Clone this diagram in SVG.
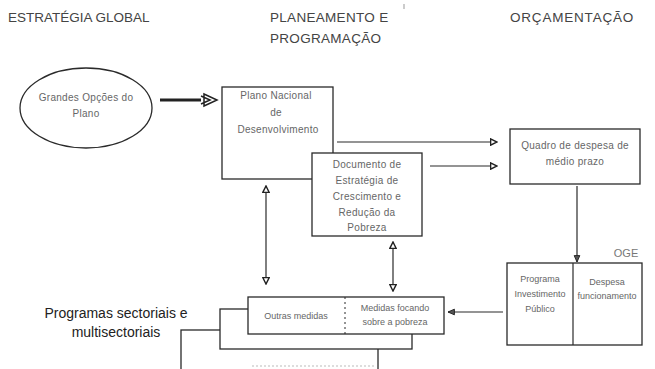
<svg xmlns="http://www.w3.org/2000/svg" width="655" height="369" viewBox="0 0 655 369">
<style>
.title{font-family:"Liberation Sans",Arial,sans-serif;font-size:13.5px;fill:#444;}
.lbl{font-family:"Liberation Sans",Arial,sans-serif;font-size:10px;fill:#666;text-anchor:middle;letter-spacing:0.3px;}
.sm{font-family:"Liberation Sans",Arial,sans-serif;font-size:9px;fill:#666;text-anchor:middle;}
.big{font-family:"Liberation Sans",Arial,sans-serif;font-size:14px;fill:#222;text-anchor:middle;}
.box{fill:#fff;stroke:#2a2a2a;stroke-width:1.3;}
.ln{fill:none;stroke:#2a2a2a;stroke-width:1.2;}
</style>
<defs>
<marker id="hol" viewBox="0 0 10 10" refX="9" refY="5" markerWidth="8" markerHeight="8" markerUnits="userSpaceOnUse" orient="auto-start-reverse">
<path d="M1,1 L9,5 L1,9 Z" fill="#fff" stroke="#222" stroke-width="1.8"/>
</marker>
<marker id="sol" viewBox="0 0 10 10" refX="9" refY="5" markerWidth="8" markerHeight="8" markerUnits="userSpaceOnUse" orient="auto-start-reverse">
<path d="M1,1.5 L9,5 L1,8.5 Z" fill="#555" stroke="#222" stroke-width="1.2"/>
</marker>
</defs>

<g id="titles">
<text class="title" x="8" y="22">ESTRATÉGIA GLOBAL</text>
<text class="title" x="270" y="22" letter-spacing="0.3">PLANEAMENTO E</text>
<text class="title" x="270" y="43" letter-spacing="0.3">PROGRAMAÇÃO</text>
<text class="title" x="510" y="22" letter-spacing="0.8">ORÇAMENTAÇÃO</text>
<line x1="404" y1="4" x2="404" y2="9" stroke="#999" stroke-width="1"/>
</g>

<g id="stack">
<rect class="box" x="181" y="330" width="197" height="45"/>
<rect class="box" x="220" y="309" width="192" height="40"/>
<line x1="252" y1="366" x2="376" y2="366" stroke="#bbb" stroke-width="1" stroke-dasharray="2,2"/>
</g>

<g id="connectors">
<path d="M160,100 L206,100" fill="none" stroke="#222" stroke-width="3"/>
<path d="M204,94 L217,100 L204,106 Z M201,96 L210,100 L201,104" fill="#fff" stroke="#222" stroke-width="1.5"/>
<line class="ln" x1="337" y1="142" x2="497" y2="142" marker-end="url(#hol)"/>
<line class="ln" x1="430" y1="166" x2="497" y2="166" marker-end="url(#hol)"/>
<line class="ln" x1="577" y1="186" x2="577" y2="262" marker-end="url(#sol)"/>
<line class="ln" x1="503" y1="312" x2="448" y2="312" marker-end="url(#sol)"/>
<line class="ln" x1="266" y1="186" x2="266" y2="284" marker-start="url(#hol)" marker-end="url(#hol)"/>
<line class="ln" x1="393" y1="242" x2="393" y2="291" marker-start="url(#hol)" marker-end="url(#hol)"/>
</g>

<g id="gop">
<ellipse cx="86" cy="108" rx="66" ry="40" fill="#fff" stroke="#2a2a2a" stroke-width="1.3"/>
<text class="lbl" x="86" y="101">Grandes Opções do</text>
<text class="lbl" x="86" y="117">Plano</text>
</g>

<g id="pnd">
<rect class="box" x="222" y="87" width="111" height="92"/>
<text class="lbl" x="276" y="99">Plano Nacional</text>
<text class="lbl" x="276" y="116">de</text>
<text class="lbl" x="278" y="133">Desenvolvimento</text>
</g>

<g id="decrp">
<rect class="box" x="312" y="153" width="110" height="83"/>
<text class="lbl" x="367" y="168">Documento de</text>
<text class="lbl" x="367" y="184">Estratégia de</text>
<text class="lbl" x="367" y="200">Crescimento e</text>
<text class="lbl" x="367" y="216">Redução da</text>
<text class="lbl" x="367" y="231">Pobreza</text>
</g>

<g id="quadro">
<rect class="box" x="510" y="129" width="130" height="55"/>
<text class="lbl" x="575" y="149">Quadro de despesa de</text>
<text class="lbl" x="575" y="165">médio prazo</text>
</g>

<g id="oge">
<text x="626" y="257" font-family="'Liberation Sans',Arial,sans-serif" font-size="11" fill="#777" text-anchor="middle">OGE</text>
<rect class="box" x="507" y="263" width="135" height="82"/>
<line class="ln" x1="573" y1="263" x2="573" y2="345"/>
<text class="sm" x="540" y="282">Programa</text>
<text class="sm" x="540" y="297">Investimento</text>
<text class="sm" x="540" y="312">Público</text>
<text class="sm" x="607" y="285">Despesa</text>
<text class="sm" x="607" y="299">funcionamento</text>
</g>

<g id="medidas">
<rect class="box" x="248" y="297" width="196" height="37"/>
<line x1="345" y1="297" x2="345" y2="334" stroke="#2a2a2a" stroke-width="1" stroke-dasharray="2,3"/>
<text class="sm" x="296" y="319">Outras medidas</text>
<text class="sm" x="395" y="311">Medidas focando</text>
<text class="sm" x="395" y="325">sobre a pobreza</text>
</g>

<g id="programas">
<text class="big" x="116" y="318">Programas sectoriais e</text>
<text class="big" x="116" y="337">multisectoriais</text>
</g>
</svg>
